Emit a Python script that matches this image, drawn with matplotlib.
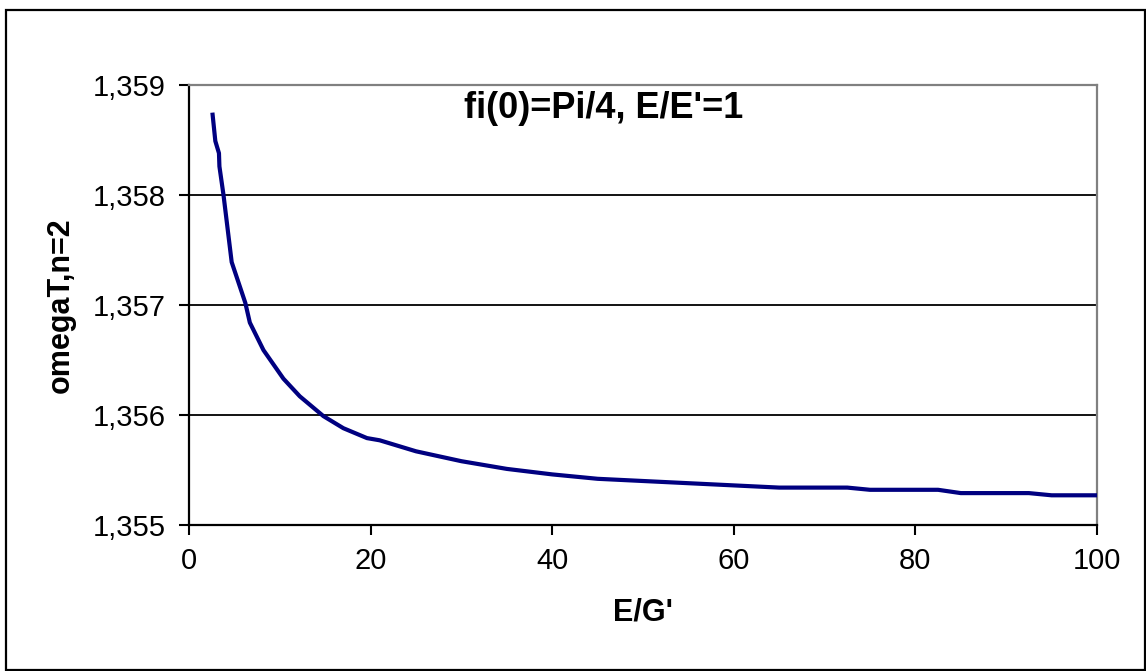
import matplotlib.pyplot as plt
from matplotlib.patches import Rectangle

plt.rcParams['font.family'] = ['Liberation Sans', 'DejaVu Sans']

# E/G' ratio and omegaT (n=2)
eg = [2.6, 2.9, 3.3, 3.35, 3.8, 4.7, 6.2, 6.7, 8.2, 10.4, 12.2, 14.8, 17.0, 19.6,
      21.0, 25.0, 30.0, 35.0, 40.0, 45.0, 50.0, 55.0, 60.0, 65.0, 72.5, 75.0,
      82.5, 85.0, 92.5, 95.0, 100.0]
omega = [1.35873, 1.35849, 1.35838, 1.35826, 1.35800, 1.35739, 1.35702, 1.35684,
         1.35659, 1.35633, 1.35617, 1.35599, 1.35588, 1.35579, 1.35577, 1.35567,
         1.35558, 1.35551, 1.35546, 1.35542, 1.35540, 1.35538, 1.35536, 1.35534,
         1.35534, 1.35532, 1.35532, 1.35529, 1.35529, 1.35527, 1.35527]

yticks = [1.355, 1.356, 1.357, 1.358, 1.359]
ytick_labels = ['1,355', '1,356', '1,357', '1,358', '1,359']
xticks = [0, 20, 40, 60, 80, 100]

fig = plt.figure(figsize=(11.46, 6.71), dpi=100)
ax = fig.add_axes([189/1146, 1 - 525/671, (1097 - 189)/1146, (525 - 85)/671])

# outer chart border
fig.patches.append(Rectangle((6/1146, 1/671), 1139/1146, 660/671, transform=fig.transFigure,
                             fill=False, edgecolor='black', linewidth=1.6))

for y in yticks[1:-1]:
    ax.axhline(y, color='black', linewidth=1.3, zorder=1)

ax.plot(eg, omega, color='#000080', linewidth=3.0, zorder=3)

ax.set_xlim(0, 100)
ax.set_ylim(1.355, 1.359)
ax.set_xticks(xticks)
ax.set_xticklabels([str(v) for v in xticks])
ax.set_yticks(yticks)
ax.set_yticklabels(ytick_labels)
ax.tick_params(axis='both', direction='out', length=7, width=1.5, labelsize=21, color='black')
ax.tick_params(axis='y', pad=10)
ax.tick_params(axis='x', pad=9)

ax.spines['left'].set_color('black')
ax.spines['bottom'].set_color('black')
ax.spines['left'].set_linewidth(1.6)
ax.spines['bottom'].set_linewidth(1.6)
ax.spines['top'].set_color('#808080')
ax.spines['right'].set_color('#808080')
ax.spines['top'].set_linewidth(1.6)
ax.spines['right'].set_linewidth(1.6)

ax.set_xlabel("E/G'", fontsize=22, fontweight='bold', labelpad=16)
ax.set_ylabel('omegaT,n=2', fontsize=22, fontweight='bold', labelpad=12)

fig.text(604/1146, 1 - 108/671, "fi(0)=Pi/4, E/E'=1", fontsize=26, fontweight='bold',
         ha='center', va='center')

fig.savefig('out.png', dpi=100)
